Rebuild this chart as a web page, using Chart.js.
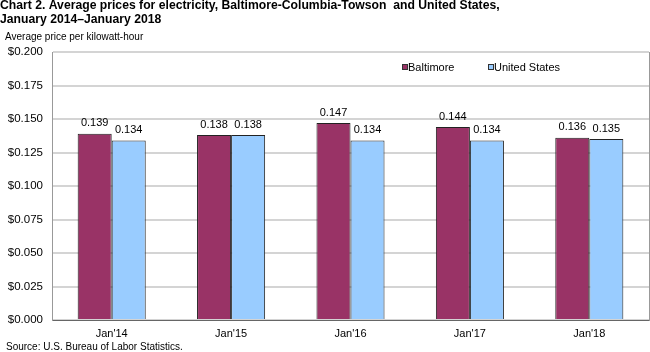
<!DOCTYPE html>
<html>
<head>
<meta charset="utf-8">
<script src="https://cdn.jsdelivr.net/npm/chart.js@4"></script>
<style>
  body { margin: 0; background: #fff; }
  #wrap { width: 650px; height: 352px; position: relative; }
</style>
</head>
<body>
<div id="wrap"><canvas id="chart" width="650" height="352"></canvas></div>
<script>
// chart data
const categories = ["Jan'14", "Jan'15", "Jan'16", "Jan'17", "Jan'18"];
const baltimore = [0.139, 0.138, 0.147, 0.144, 0.136];
const unitedStates = [0.134, 0.138, 0.134, 0.134, 0.135];
const titleLines = ["Chart 2. Average prices for electricity, Baltimore-Columbia-Towson  and United States,", "January 2014\u2013January 2018"];
const yTitle = "Average price per kilowatt-hour";
const sourceText = "Source: U.S. Bureau of Labor Statistics.";

const FONT = "Arial, 'Liberation Sans', sans-serif";

// draws title, axis title, source note, legend and value labels
const extras = {
  id: "extras",
  afterDraw(chart) {
    const ctx = chart.ctx;
    ctx.save();
    ctx.fillStyle = "#000";
    ctx.textBaseline = "middle";
    ctx.textAlign = "left";
    ctx.font = "bold 12.2px " + FONT;
    ctx.fillText(titleLines[0], 0, 6);
    ctx.fillText(titleLines[1], 0, 19.5);
    ctx.font = "10px " + FONT;
    ctx.fillText(yTitle, 5, 37.5);
    ctx.fillText(sourceText, 6, 347);

    // legend
    ctx.font = "11px " + FONT;
    let lx = 402;
    chart.data.datasets.forEach((ds, i) => {
      ctx.fillStyle = ds.backgroundColor;
      ctx.fillRect(lx, 64, 6, 6);
      ctx.strokeStyle = "#333";
      ctx.lineWidth = 1;
      ctx.strokeRect(lx + 0.5, 64.5, 5, 5);
      ctx.fillStyle = "#000";
      ctx.fillText(ds.label, lx + 6, 67.5);
      lx += 86;
    });

    // value labels
    ctx.textAlign = "center";
    ctx.textBaseline = "bottom";
    chart.data.datasets.forEach((ds, i) => {
      chart.getDatasetMeta(i).data.forEach((bar, j) => {
        ctx.fillText(ds.data[j].toFixed(3), bar.x, bar.y - 5);
      });
    });
    ctx.restore();
  }
};

new Chart(document.getElementById("chart"), {
  type: "bar",
  data: {
    labels: categories,
    datasets: [
      { label: "Baltimore", data: baltimore, backgroundColor: "#993366", borderColor: "#222", borderWidth: 1 },
      { label: "United States", data: unitedStates, backgroundColor: "#99ccff", borderColor: "#222", borderWidth: 1 }
    ]
  },
  options: {
    responsive: false,
    animation: false,
    layout: { padding: { top: 52, right: 1, left: 0, bottom: 0 } },
    plugins: { legend: { display: false }, tooltip: { enabled: false } },
    datasets: { bar: { barPercentage: 1, categoryPercentage: 0.57 } },
    scales: {
      x: {
        afterFit(scale) { scale.height = 32; },
        grid: { display: false, drawTicks: false },
        border: { color: "#666", width: 1 },
        ticks: { color: "#000", font: { family: FONT, size: 11 }, padding: 7 }
      },
      y: {
        min: 0,
        max: 0.2,
        afterFit(scale) { scale.width = 52; },
        grid: { color: "#d4d4d4", lineWidth: 2, drawTicks: false },
        border: { color: "#999", width: 1 },
        ticks: {
          stepSize: 0.025,
          padding: 9,
          color: "#000",
          font: { family: FONT, size: 11.5 },
          callback: v => "$" + v.toFixed(3)
        }
      },
      y2: {
        position: "right",
        min: 0,
        max: 0.2,
        afterFit(scale) { scale.width = 0; },
        grid: { display: false },
        border: { color: "#999", width: 1 },
        ticks: { display: false }
      }
    }
  },
  plugins: [extras]
});
</script>
</body>
</html>
